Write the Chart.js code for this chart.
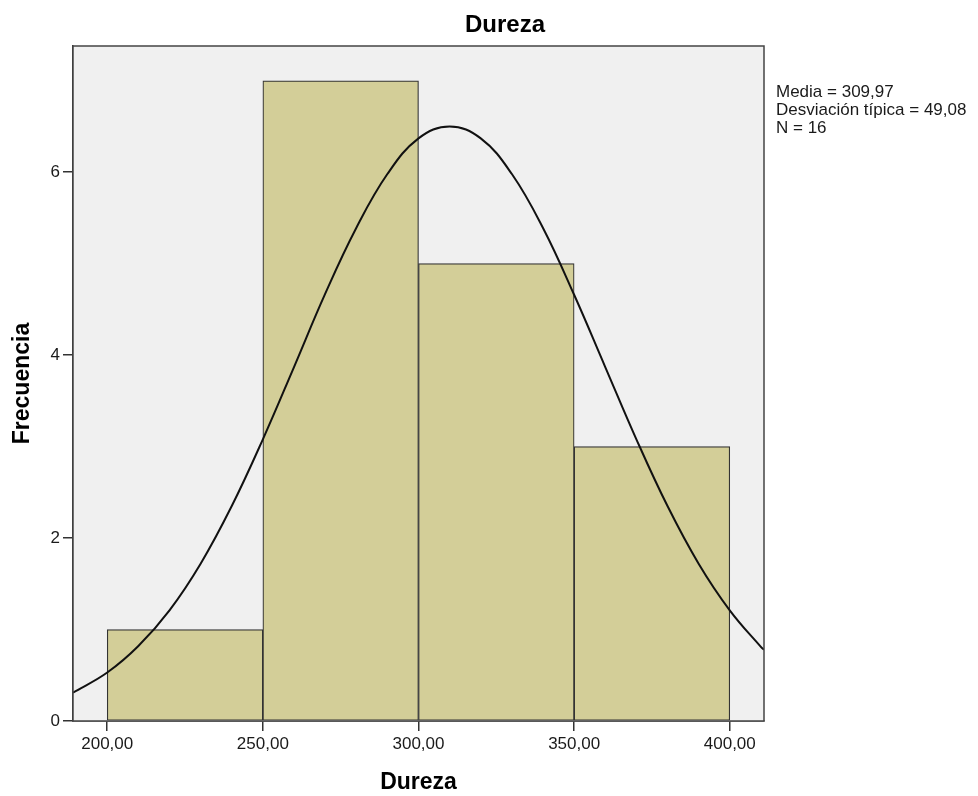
<!DOCTYPE html>
<html>
<head>
<meta charset="utf-8">
<script src="https://cdn.jsdelivr.net/npm/chart.js@4/dist/chart.umd.min.js"></script>
<style>
  html, body { margin: 0; padding: 0; background: #ffffff; }
  #wrap { width: 978px; height: 796px; }
</style>
</head>
<body>
<div id="wrap"><canvas id="c" width="978" height="796"></canvas></div>
<script>
// ---- Data ----
const chartTitle = 'Dureza';
const xAxisTitle = 'Dureza';
const yAxisTitle = 'Frecuencia';
const binCenters = [225, 275, 325, 375];
const frequencies = [1, 7, 5, 3];
const xTickValues = [200, 250, 300, 350, 400];
const yTickValues = [0, 2, 4, 6];
const xRange = [189, 411];
const yRange = [0, 7.38];
const curveX = [189, 200, 210, 220, 230, 240, 250, 260, 270, 280, 290, 300, 310,
                320, 330, 340, 350, 360, 370, 380, 390, 400, 410, 411];
const curveY = [0.31, 0.53, 0.82, 1.21, 1.72, 2.35, 3.08, 3.87, 4.67, 5.39, 5.98, 6.37, 6.50,
                6.37, 5.98, 5.39, 4.66, 3.87, 3.08, 2.35, 1.72, 1.21, 0.81, 0.78];
const statsLines = ['Media = 309,97', 'Desviación típica = 49,08', 'N = 16'];

const FONT = '"Liberation Sans", Arial, sans-serif';

const barData = binCenters.map((x, i) => ({ x: x, y: frequencies[i] }));
const curveData = curveX.map((x, i) => ({ x: x, y: curveY[i] }));

const framePlugin = {
  id: 'frame',
  beforeDatasetsDraw(chart) {
    const { ctx, chartArea: a } = chart;
    ctx.save();
    ctx.fillStyle = '#f0f0f0';
    ctx.fillRect(a.left, a.top, a.right - a.left, a.bottom - a.top);
    ctx.restore();
  },
  afterDraw(chart) {
    const { ctx, chartArea: a } = chart;
    ctx.save();
    ctx.strokeStyle = '#444444';
    ctx.lineWidth = 1.5;
    ctx.strokeRect(a.left, a.top, a.right - a.left, a.bottom - a.top);
    ctx.fillStyle = '#1a1a1a';
    ctx.font = '17px ' + FONT;
    ctx.textBaseline = 'alphabetic';
    ctx.textAlign = 'left';
    statsLines.forEach((t, i) => ctx.fillText(t, a.right + 12, 97 + i * 18));
    ctx.restore();
  }
};

new Chart(document.getElementById('c'), {
  type: 'bar',
  data: {
    datasets: [
      {
        type: 'line',
        data: curveData,
        borderColor: '#111111',
        borderWidth: 2,
        pointRadius: 0,
        fill: false,
        tension: 0.4,
        order: 0,
        yAxisID: 'y',
        xAxisID: 'x'
      },
      {
        type: 'bar',
        data: barData,
        backgroundColor: '#d3ce98',
        borderColor: '#333333',
        borderWidth: 1.2,
        borderSkipped: false,
        barPercentage: 1,
        categoryPercentage: 1,
        order: 1,
        yAxisID: 'y',
        xAxisID: 'x'
      }
    ]
  },
  options: {
    responsive: false,
    animation: false,
    devicePixelRatio: 1,
    layout: { padding: { left: 32, right: 0, top: 0, bottom: 0 } },
    plugins: {
      legend: { display: false },
      tooltip: { enabled: false },
      title: {
        display: true,
        text: chartTitle,
        color: '#000000',
        font: { family: FONT, size: 24, weight: 'bold', lineHeight: 1.2 },
        padding: { top: 11, bottom: 6.2 }
      }
    },
    scales: {
      x: {
        type: 'linear',
        position: 'bottom',
        min: xRange[0],
        max: xRange[1],
        offset: false,
        afterBuildTicks: (s) => { s.ticks = xTickValues.map(v => ({ value: v })); },
        afterFit: (s) => { s.height = 75; },
        grid: { offset: false, drawOnChartArea: false, drawTicks: true, tickLength: 10, color: '#333333', lineWidth: 1.5 },
        border: { display: true, color: '#333333', width: 1.5 },
        ticks: {
          color: '#1a1a1a',
          padding: 3,
          maxRotation: 0,
          font: { family: FONT, size: 17 },
          callback: (v) => Number(v).toFixed(2).replace('.', ',')
        },
        title: {
          display: true,
          text: xAxisTitle,
          color: '#000000',
          font: { family: FONT, size: 23, weight: 'bold', lineHeight: 1.2 },
          padding: { top: 0, bottom: 0 }
        }
      },
      y: {
        type: 'linear',
        position: 'left',
        min: yRange[0],
        max: yRange[1],
        afterBuildTicks: (s) => { s.ticks = yTickValues.map(v => ({ value: v })); },
        afterFit: (s) => { s.width = 41; },
        grid: { drawOnChartArea: false, drawTicks: true, tickLength: 10, color: '#333333', lineWidth: 1.5 },
        border: { display: true, color: '#333333', width: 1.5 },
        ticks: {
          color: '#1a1a1a',
          padding: 3,
          font: { family: FONT, size: 17 }
        },
        title: {
          display: true,
          text: yAxisTitle,
          color: '#000000',
          font: { family: FONT, size: 23, weight: 'bold', lineHeight: 1.2 },
          padding: { top: -23, bottom: 0 }
        }
      },
      yRight: {
        type: 'linear',
        position: 'right',
        display: true,
        afterFit: (s) => { s.width = 214; },
        grid: { display: false, drawTicks: false },
        border: { display: false },
        ticks: { display: false }
      }
    }
  },
  plugins: [framePlugin]
});
</script>
</body>
</html>
